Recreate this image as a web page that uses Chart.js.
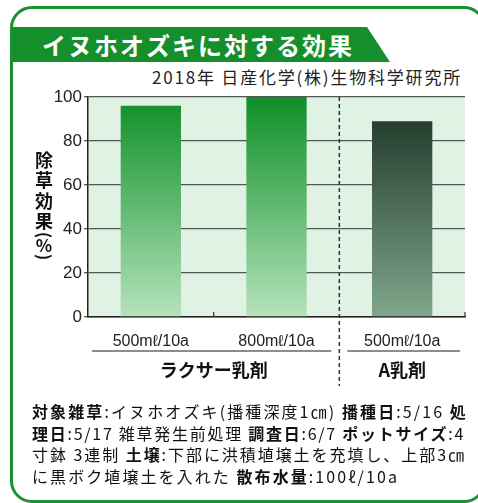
<!DOCTYPE html>
<html>
<head>
<meta charset="utf-8">
<script src="https://cdn.jsdelivr.net/npm/chart.js@4.4.1/dist/chart.umd.min.js"></script>
<style>
  html, body { margin: 0; padding: 0; background: #fff; }
  body { width: 478px; height: 503px; position: relative; overflow: hidden;
         font-family: 'Noto Sans CJK JP', sans-serif; color: #1a1a1a; }
  #frame { position: absolute; left: 10px; top: 6px; width: 470px; height: 491px;
           border: 3px solid #1a9230; border-radius: 22px; box-sizing: content-box; }
  #banner { position: absolute; left: 12px; top: 27px; width: 380px; height: 35px;
            background: #158f2b; clip-path: polygon(0 0, 355px 0, 378px 100%, 0 100%); }
  #banner span { position: absolute; left: 30px; top: 0; line-height: 35px;
                 font-size: 24px; font-weight: bold; color: #fff; letter-spacing: 2px; }
  #source { position: absolute; left: 152px; top: 66px; font-size: 17px; line-height: 22px; color: #222; white-space: nowrap; }
  #myChart { position: absolute; left: 0; top: 0; }
  #notes { position: absolute; left: 32px; top: 401px; font-size: 16px; color: #111; }
  #notes div { height: 21.5px; line-height: 21.5px; white-space: nowrap; width: max-content; }
  #notes b { font-weight: bold; }
</style>
</head>
<body>
<div id="frame"></div>
<div id="banner"><span>イヌホオズキに対する効果</span></div>
<div id="source" data-w="310">2018年 日産化学(株)生物科学研究所</div>
<canvas id="myChart" width="478" height="503"></canvas>
<div id="notes">
  <div data-w="436"><b>対象雑草</b>:イヌホオズキ(播種深度1㎝) <b>播種日</b>:5/16 <b>処</b></div>
  <div data-w="433"><b>理日</b>:5/17 雑草発生前処理 <b>調査日</b>:6/7 <b>ポットサイズ</b>:4</div>
  <div data-w="434">寸鉢 3連制 <b>土壌</b>:下部に洪積埴壌土を充填し、上部3㎝</div>
  <div data-w="367">に黒ボク埴壌土を入れた <b>散布水量</b>:100ℓ/10a</div>
</div>
<script>
// Data
var categories = ['500mℓ/10a', '800mℓ/10a', '500mℓ/10a'];
var efficacy = [96, 100, 89];
var groupNames = ['ラクサー乳剤', 'A乳剤'];
var groupFirst = [0, 2];
var groupLast = [1, 2];
var yTicks = [0, 20, 40, 60, 80, 100];
var yTitle = ['除', '草', '効', '果'];

// Bar colours (top -> bottom of the gradient)
var palette = [
    ['#0e9026', '#b6e2bd'],
    ['#0e9026', '#b6e2bd'],
    ['#1a3124', '#80a78b']
];

// Fit each text line to the width it has in the print
document.querySelectorAll('[data-w]').forEach(function (line) {
    var target = parseFloat(line.dataset.w);
    var n = line.textContent.trim().length;
    var w = line.getBoundingClientRect().width;
    line.style.letterSpacing = ((target - w) / n) + 'px';
});

var decor = {
    id: 'decor',
    beforeDraw: function (chart) {
        var a = chart.chartArea, c = chart.ctx;
        c.save();
        c.fillStyle = '#e0f2e3';
        c.fillRect(a.left, a.top, a.right - a.left, a.bottom - a.top);
        c.restore();
    },
    afterDraw: function (chart) {
        var a = chart.chartArea, c = chart.ctx, x = chart.scales.x;
        var half = (x.getPixelForValue(1) - x.getPixelForValue(0)) / 2;
        c.save();

        // small ticks on the base line between categories
        c.strokeStyle = '#333';
        c.lineWidth = 1.2;
        [x.getPixelForValue(0) + half, a.right].forEach(function (px) {
            c.beginPath();
            c.moveTo(px, a.bottom - 5);
            c.lineTo(px, a.bottom);
            c.stroke();
        });

        // dashed separator between the two products
        var sep = x.getPixelForValue(groupLast[0]) + half;
        c.setLineDash([4, 3]);
        c.lineWidth = 1.5;
        c.strokeStyle = '#333';
        c.beginPath();
        c.moveTo(sep, a.top);
        c.lineTo(sep, 386);
        c.stroke();
        c.setLineDash([]);

        // group underline + name
        c.strokeStyle = '#666';
        c.lineWidth = 1.5;
        c.fillStyle = '#111';
        c.font = 'bold 18px "Noto Sans CJK JP"';
        c.textAlign = 'center';
        c.textBaseline = 'middle';
        for (var i = 0; i < groupNames.length; i++) {
            var l = x.getPixelForValue(groupFirst[i]) - half + (i === 0 ? 4 : 8);
            var r = x.getPixelForValue(groupLast[i]) + half - (i === 0 ? 8 : 5);
            c.beginPath();
            c.moveTo(l, 351);
            c.lineTo(r, 351);
            c.stroke();
            c.fillText(groupNames[i], (x.getPixelForValue(groupFirst[i]) + x.getPixelForValue(groupLast[i])) / 2, 370);
        }

        // vertical y-axis title: 除草効果(%)
        c.font = 'bold 18px "Noto Sans CJK JP"';
        yTitle.forEach(function (ch, k) {
            c.fillText(ch, 44, 160 + k * 20.5);
        });
        c.font = 'bold 17px "Noto Sans CJK JP"';
        [['(', 235], [')', 257]].forEach(function (p) {
            c.save();
            c.translate(44, p[1]);
            c.rotate(Math.PI / 2);
            c.fillText(p[0], 0, 0);
            c.restore();
        });
        c.fillText('%', 44, 246);
        c.restore();
    }
};

var ctx = document.getElementById('myChart').getContext('2d');
var myChart = new Chart(ctx, {
    type: 'bar',
    data: {
        labels: categories,
        datasets: [{
            label: '除草効果(%)',
            data: efficacy,
            backgroundColor: function (context) {
                var area = context.chart.chartArea;
                var pair = palette[context.dataIndex];
                if (!area) return pair[0];
                var g = context.chart.ctx.createLinearGradient(0, area.top, 0, area.bottom);
                g.addColorStop(0, pair[0]);
                g.addColorStop(1, pair[1]);
                return g;
            },
            borderWidth: 0,
            barPercentage: 1,
            categoryPercentage: 0.48
        }]
    },
    options: {
        responsive: false,
        animation: false,
        layout: { padding: { left: 0, top: 97, right: 13, bottom: 0 } },
        plugins: { legend: { display: false }, tooltip: { enabled: false } },
        scales: {
            x: {
                grid: { display: false },
                border: { color: '#222', width: 1.5 },
                ticks: { color: '#222', padding: 7, font: { size: 16, family: "'Liberation Sans', 'Noto Sans CJK JP'" } },
                afterFit: function (s) { s.height = 186; }
            },
            y: {
                min: 0,
                max: 100,
                afterBuildTicks: function (s) { s.ticks = yTicks.map(function (v) { return { value: v }; }); },
                grid: { color: '#555', lineWidth: 1.3, tickLength: 4 },
                border: { color: '#222', width: 1.5 },
                ticks: { color: '#222', padding: 2, font: { size: 17, family: "'Liberation Sans', 'Noto Sans CJK JP'" } },
                afterFit: function (s) { s.width = 88; }
            }
        }
    },
    plugins: [decor]
});
</script>
</body>
</html>
